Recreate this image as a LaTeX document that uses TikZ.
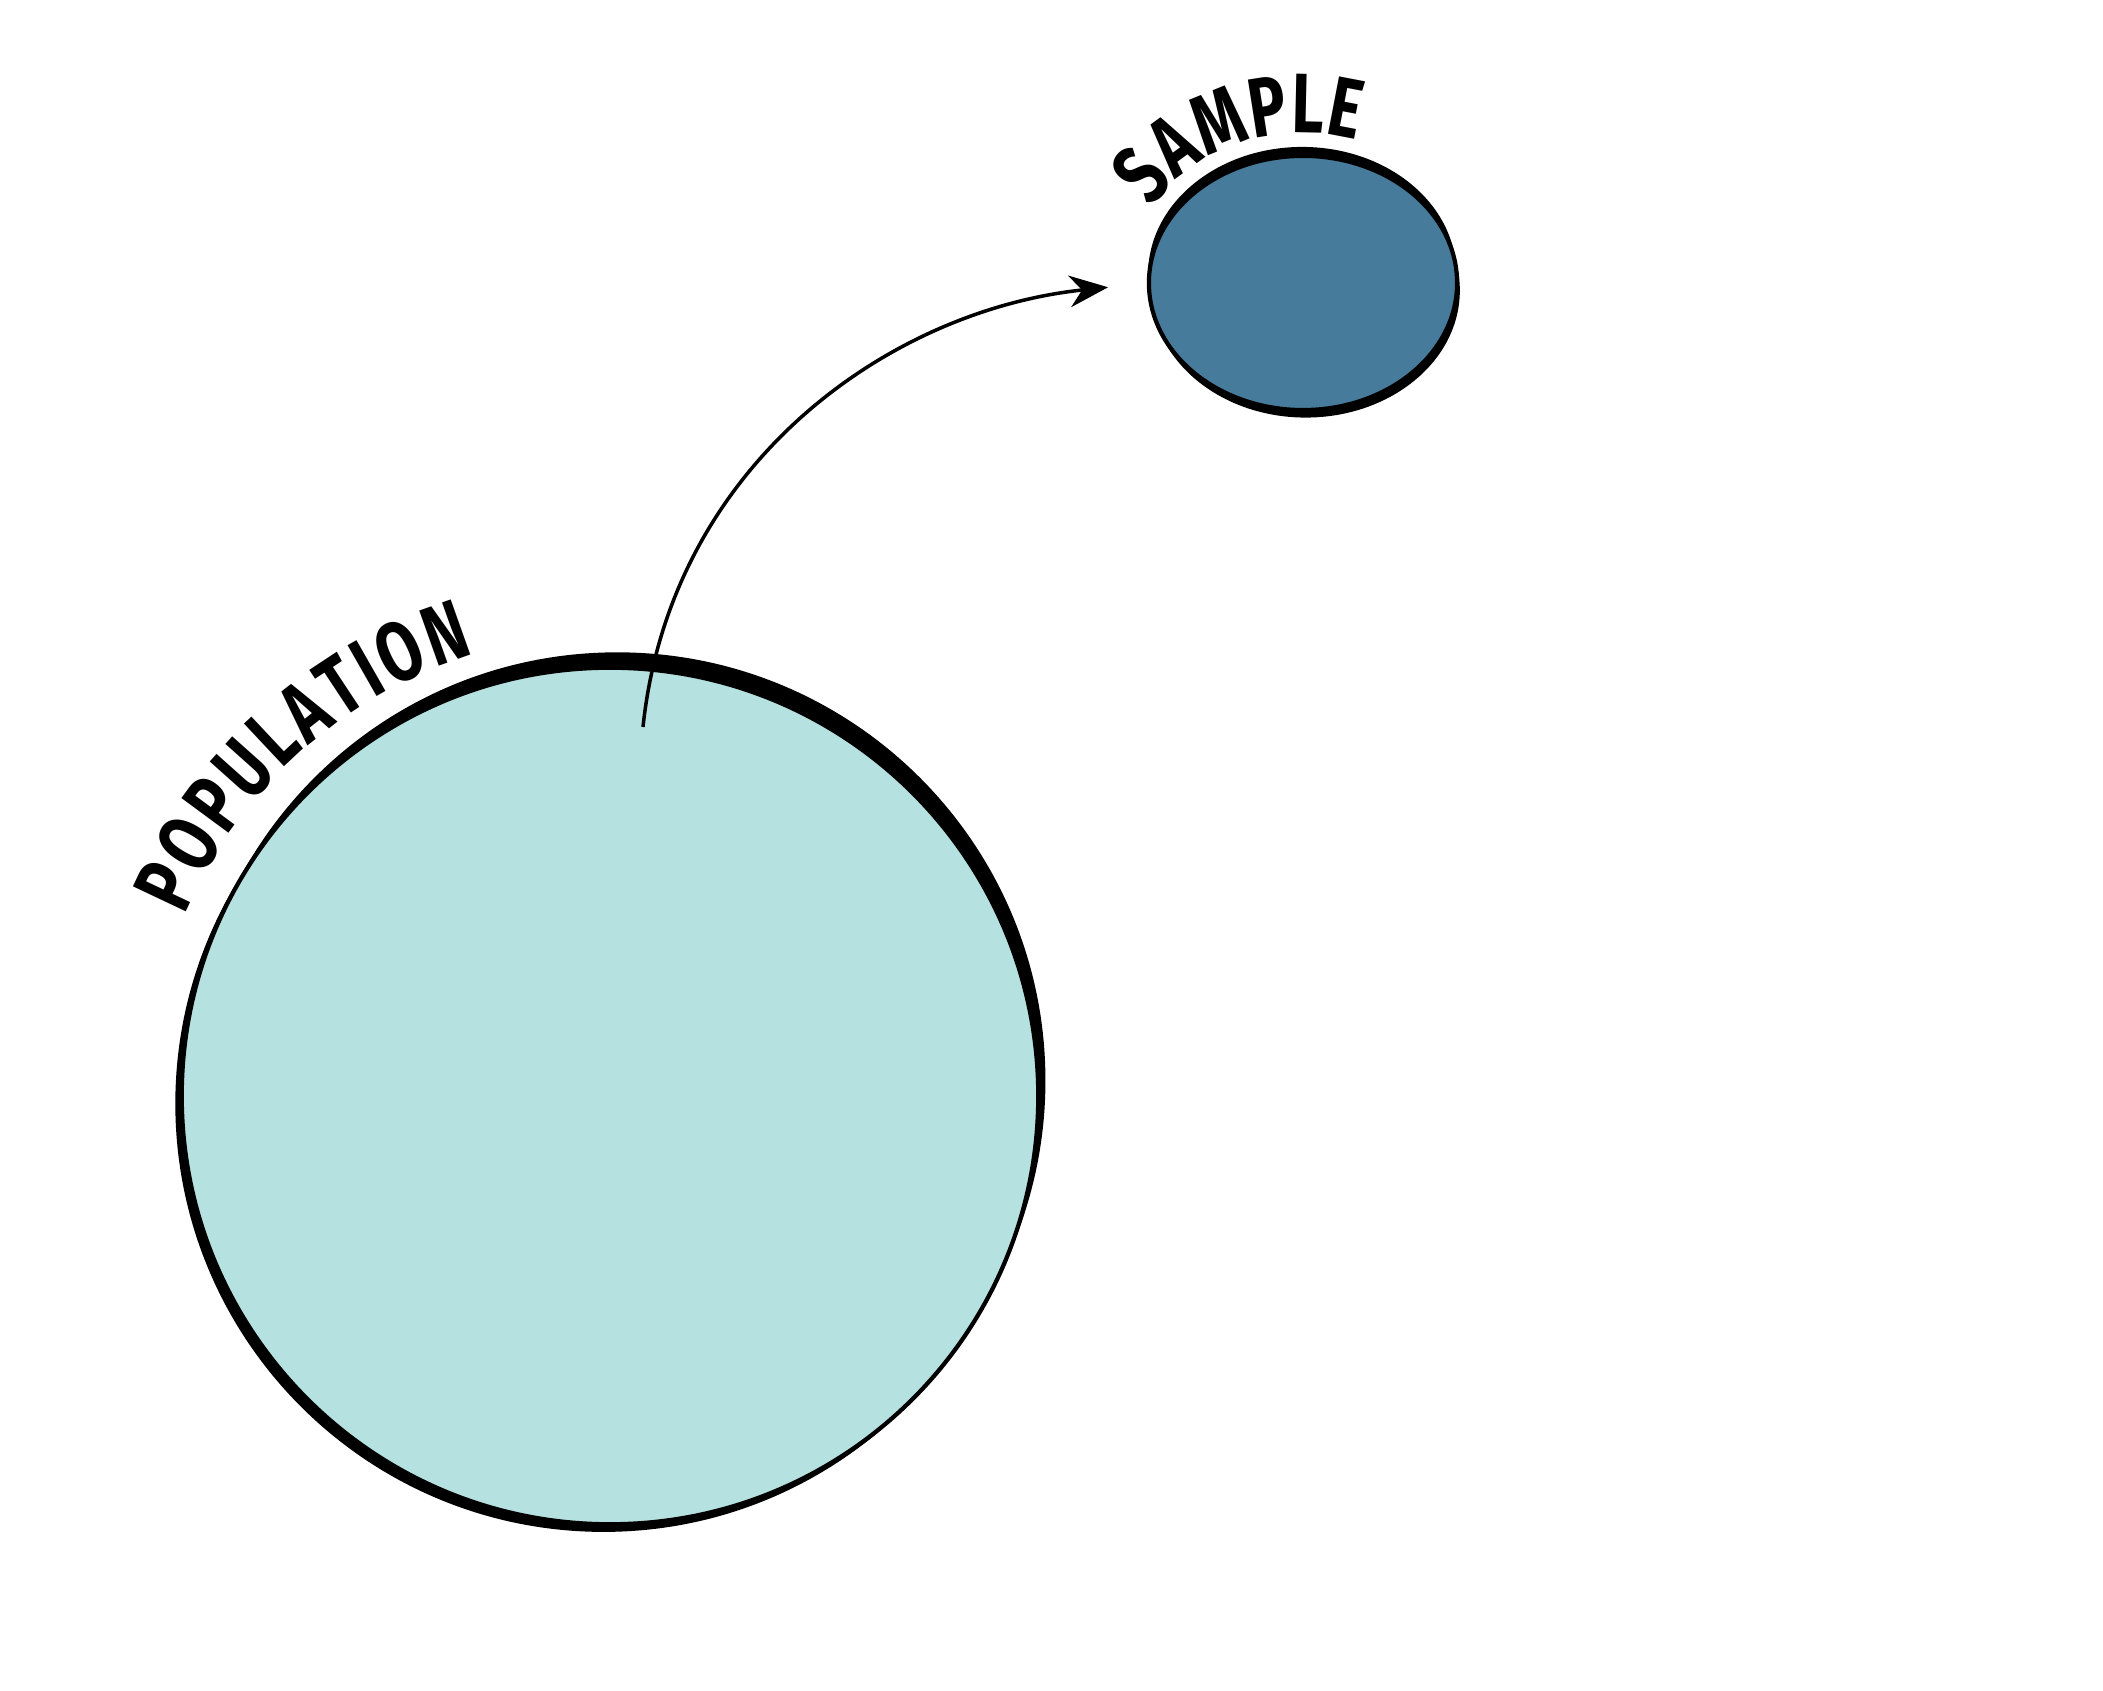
\documentclass[tikz,border=0pt]{standalone}
\usepackage{fontspec}
\newfontfamily\handfont{Fira Sans}[FakeStretch=0.74]
\usetikzlibrary{arrows.meta, shapes.geometric, decorations.text}
\definecolor{popcyan}{HTML}{B5E2E1}
\definecolor{sampleblue}{HTML}{477B9B}
\tikzstyle{arrow} = [line width=1pt, -{Stealth[length=11pt, width=9pt]}]
\tikzstyle{curvedtext} = [decorate, decoration={text along path, text align={fit to path}, text={|\labelfont|#1}}]
\newcommand{\labelfont}{\handfont\bfseries\fontsize{24}{24}\selectfont}

\begin{document}
\begin{tikzpicture}[x=0.01cm, y=0.01cm]
    \useasboundingbox (0,0) rectangle (2103,1691);
    \coordinate (popc) at (610,595);
    \coordinate (samc) at (1303,1408);
    % heavier strokes behind the outlines
    \fill (popc) ++(65:0.17cm) circle[radius=4.28cm];
    \fill (popc) ++(230:0.1cm) circle[radius=4.28cm];
    \fill (samc) ++(95:0.09cm) ellipse[x radius=1.54cm, y radius=1.27cm];
    \fill (samc) ++(290:0.08cm) ellipse[x radius=1.54cm, y radius=1.27cm];
    % population and sample
    \node[circle, draw, fill=popcyan, line width=1.2pt, minimum size=8.56cm, outer sep=0pt] (population) at (popc) {};
    \node[ellipse, draw, fill=sampleblue, line width=1.2pt, minimum width=3.08cm, minimum height=2.54cm, outer sep=0pt] (sample) at (samc) {};
    % curved labels
    \path[curvedtext=POPULATION]
      (population.center) ++(157:4.62cm) arc[start angle=157, end angle=107, radius=4.62cm];
    \path[curvedtext=SAMPLE]
      (sample.center) ++(150:1.74cm and 1.5cm) arc[start angle=150, end angle=72, x radius=1.74cm, y radius=1.5cm];
    % drawing the sample
    \coordinate (lift) at (643,964);
    \draw[arrow, shorten >=0.41cm] (lift) to[out=84, in=186] (sample.west);
  \end{tikzpicture}
\end{document}
